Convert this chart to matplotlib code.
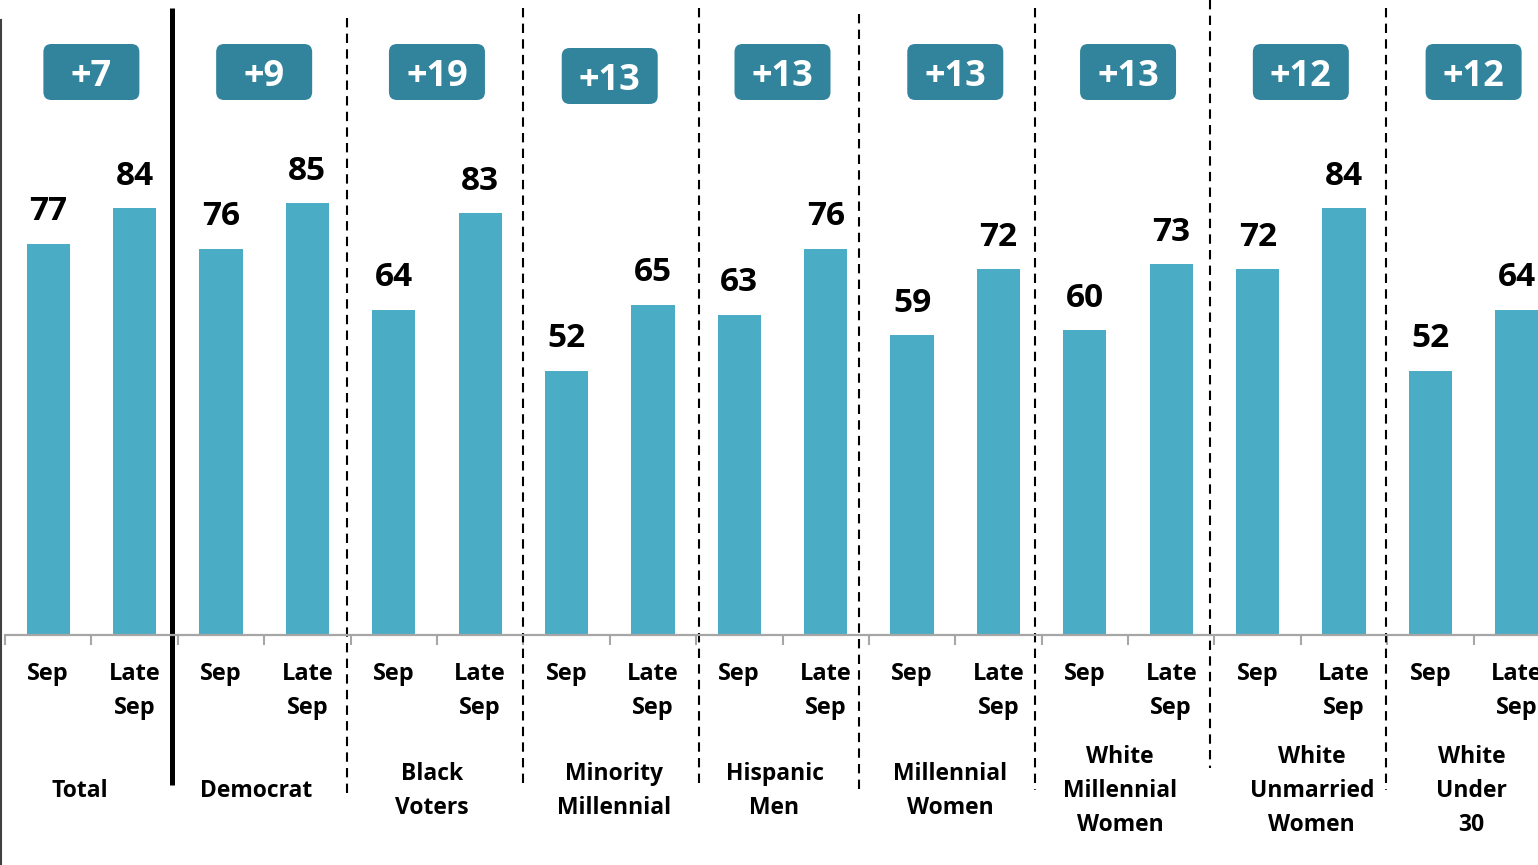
import matplotlib
matplotlib.use('Agg')
import matplotlib.pyplot as plt
from matplotlib.patches import FancyBboxPatch
from matplotlib.transforms import blended_transform_factory

# ---- data ----
groups = ['Total', 'Democrat', 'Black\nVoters', 'Minority\nMillennial', 'Hispanic\nMen',
          'Millennial\nWomen', 'White\nMillennial\nWomen', 'White\nUnmarried\nWomen',
          'White\nUnder\n30']
periods = ['Sep', 'Late\nSep']
sep_values = [77, 76, 64, 52, 63, 59, 60, 72, 52]
late_values = [84, 85, 83, 65, 76, 72, 73, 84, 64]
change_labels = ['+7', '+9', '+19', '+13', '+13', '+13', '+13', '+12', '+12']

# ---- style ----
W, H = 1538, 865
BAR = '#4BACC6'
BADGE = '#31849B'
FONT = ['Open Sans', 'DejaVu Sans']
plt.rcParams['font.family'] = FONT
plt.rcParams['font.weight'] = 'bold'

divider_dx_px = [-6, -4, 0, 3, -10, -7, -4, -1]
divider_top_px = [8, 18, 8, 8, 14, 8, 0, 8]
divider_bot_px = [785, 797, 785, 785, 792, 790, 768, 790]
label_dx_px = [-12, -8, -5, 4, -8, -5, -8, 11, -2]
badge_dy_px = [0, 0, 0, 4, 0, 0, 0, 0, 0]

fig = plt.figure(figsize=(W / 100, H / 100), dpi=100)
fig.patch.set_facecolor('white')
ax = fig.add_axes([5 / W, (H - 635) / H, 1555 / W, 635 / H])
ax.set_xlim(-0.5, 2 * len(groups) - 0.5)
ax.set_ylim(0, 125)
px_x = 1555 / (2 * len(groups))   # pixels per x unit
px_y = 635 / 125                   # pixels per y unit

values, positions, tick_labels = [], [], []
for g in range(len(groups)):
    for p, v in enumerate([sep_values[g], late_values[g]]):
        values.append(v)
        positions.append(2 * g + p)
        tick_labels.append(periods[p])

ax.bar(positions, values, width=0.5, color=BAR, zorder=2)
for x, v in zip(positions, values):
    ax.annotate(str(v), (x, v), xytext=(0, 17), textcoords='offset points',
                ha='center', va='baseline', fontsize=24, fontweight='bold', color='black')

for s in ['top', 'right', 'left']:
    ax.spines[s].set_visible(False)
ax.spines['bottom'].set_color('#A6A6A6')
ax.spines['bottom'].set_linewidth(1.6)
ax.set_yticks([])
ax.set_xticks([i - 0.5 for i in range(2 * len(groups) + 1)])
ax.set_xticklabels([])
ax.tick_params(axis='x', which='major', length=7, width=1.5, color='#A6A6A6', direction='out')
ax.set_xticks(positions, minor=True)
ax.set_xticklabels(tick_labels, minor=True, fontsize=17, fontweight='bold', linespacing=1.55)
ax.tick_params(axis='x', which='minor', length=0, pad=19.5)

trans = blended_transform_factory(ax.transData, fig.transFigure)
for g in range(1, len(groups)):
    xb = 2 * g - 0.5 + divider_dx_px[g - 1] / px_x
    y0 = 1 - divider_top_px[g - 1] / H
    y1 = 1 - divider_bot_px[g - 1] / H
    if g == 1:
        ax.plot([xb, xb], [y0, y1], transform=trans, color='black', lw=3.6,
                clip_on=False, solid_capstyle='butt')
    else:
        ax.plot([xb, xb], [y0, y1], transform=trans, color='black', lw=1.5,
                clip_on=False, linestyle=(0, (4.5, 3)))

# badges
bw = 96 / px_x
bh = 56 / px_y
for g, lab in enumerate(change_labels):
    cx = 2 * g + 0.5
    cy = (635 - 72 - badge_dy_px[g]) / px_y
    r = 8 / px_x
    patch = FancyBboxPatch((cx - bw / 2, cy - bh / 2), bw, bh,
                           boxstyle=f'round,pad=0,rounding_size={r}',
                           mutation_aspect=px_x / px_y,
                           facecolor=BADGE, edgecolor='none', clip_on=False, zorder=3)
    ax.add_patch(patch)
    ax.text(cx, cy, lab, ha='center', va='center_baseline', color='white',
            fontsize=26, fontweight='bold', zorder=4, clip_on=False)

# group labels
for g, lab in enumerate(groups):
    cx = 2 * g + 0.5 + label_dx_px[g] / px_x
    ax.text(cx, 1 - 791 / H, lab, transform=trans, ha='center', va='center',
            fontsize=16.5, fontweight='bold', linespacing=1.55, clip_on=False)

# left border line
fig.add_artist(plt.Line2D([1 / W, 1 / W], [1 - 20 / H, 0], color='#404040', lw=1.5,
                          transform=fig.transFigure))

fig.savefig('out.png', dpi=100, facecolor='white')
